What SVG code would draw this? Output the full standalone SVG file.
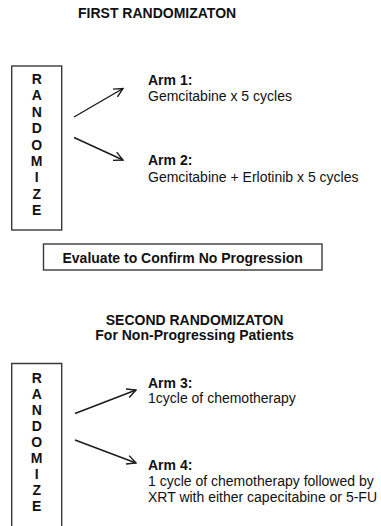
<svg xmlns="http://www.w3.org/2000/svg" width="381" height="526" viewBox="0 0 381 526">
  <style>
    .bg { fill: #ffffff; }
    .box { fill: none; stroke: #3a3a3a; stroke-width: 1.4; }
    .t { font-family: "Liberation Sans", Arial, sans-serif; font-size: 14px; fill: #111111; }
    .b { font-weight: bold; }
    .mid { text-anchor: middle; }
    .conn { stroke: #1a1a1a; stroke-width: 1.4; fill: none; marker-end: url(#open); }
  </style>
  <defs>
    <marker id="open" viewBox="0 0 12 12" refX="11" refY="6" markerWidth="12" markerHeight="12" markerUnits="userSpaceOnUse" orient="auto">
      <path d="M2,1.5 L11,6 L2,10.5" fill="none" stroke="#1a1a1a" stroke-width="1.4" stroke-linejoin="miter"/>
    </marker>
  </defs>
  <rect class="bg" x="0" y="0" width="381" height="526"/>

  <!-- headings -->
  <g id="title-first">
    <text class="t b" x="78" y="18">FIRST RANDOMIZATON</text>
  </g>
  <g id="title-second">
    <text class="t b mid" x="194.5" y="325">SECOND RANDOMIZATON</text>
    <text class="t b mid" x="194.5" y="340">For Non-Progressing Patients</text>
  </g>

  <!-- first randomize box -->
  <g id="randomize-1">
    <rect class="box" x="11.7" y="66" width="50" height="164"/>
    <text class="t b mid" x="36.7" y="84">R</text>
    <text class="t b mid" x="36.7" y="100.4">A</text>
    <text class="t b mid" x="36.7" y="116.8">N</text>
    <text class="t b mid" x="36.7" y="133.2">D</text>
    <text class="t b mid" x="36.7" y="149.6">O</text>
    <text class="t b mid" x="36.7" y="166">M</text>
    <text class="t b mid" x="36.7" y="182.4">I</text>
    <text class="t b mid" x="36.7" y="198.8">Z</text>
    <text class="t b mid" x="36.7" y="215.2">E</text>
  </g>

  <g id="arm-1">
    <text class="t b" x="148" y="85">Arm 1:</text>
    <text class="t" x="148" y="101">Gemcitabine x 5 cycles</text>
  </g>
  <g id="arm-2">
    <text class="t b" x="148" y="165">Arm 2:</text>
    <text class="t" x="148" y="182">Gemcitabine + Erlotinib x 5 cycles</text>
  </g>

  <g id="evaluate">
    <rect class="box" x="43.5" y="244" width="278.5" height="26"/>
    <text class="t b mid" x="182.7" y="262.5">Evaluate to Confirm No Progression</text>
  </g>

  <!-- second randomize box (runs off the bottom edge) -->
  <g id="randomize-2">
    <path class="box" d="M11.7,530 V363.5 H61.7 V530"/>
    <text class="t b mid" x="36.7" y="383">R</text>
    <text class="t b mid" x="36.7" y="399">A</text>
    <text class="t b mid" x="36.7" y="415">N</text>
    <text class="t b mid" x="36.7" y="431">D</text>
    <text class="t b mid" x="36.7" y="447">O</text>
    <text class="t b mid" x="36.7" y="463">M</text>
    <text class="t b mid" x="36.7" y="479">I</text>
    <text class="t b mid" x="36.7" y="495">Z</text>
    <text class="t b mid" x="36.7" y="511">E</text>
  </g>

  <g id="arm-3">
    <text class="t b" x="148" y="388">Arm 3:</text>
    <text class="t" x="148" y="403">1cycle of chemotherapy</text>
  </g>
  <g id="arm-4">
    <text class="t b" x="148" y="470">Arm 4:</text>
    <text class="t" x="148" y="486">1 cycle of chemotherapy followed by</text>
    <text class="t" x="148" y="502">XRT with either capecitabine or 5-FU</text>
  </g>

  <!-- connectors -->
  <g id="connectors">
    <line class="conn" x1="74" y1="117" x2="123" y2="88.5"/>
    <line class="conn" x1="74" y1="137.5" x2="123" y2="160"/>
    <line class="conn" x1="75" y1="413.5" x2="136" y2="390"/>
    <line class="conn" x1="75" y1="440" x2="136" y2="463"/>
  </g>
</svg>
